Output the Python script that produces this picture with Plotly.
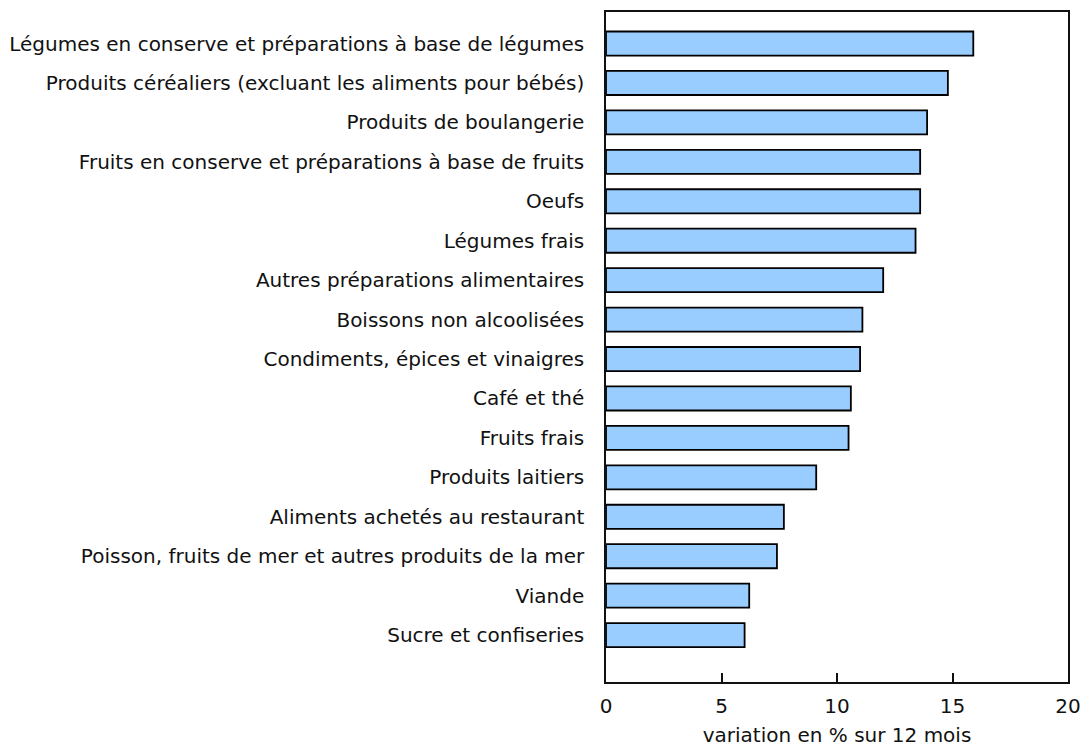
import plotly.graph_objects as go

categories = [
    "Légumes en conserve et préparations à base de légumes",
    "Produits céréaliers (excluant les aliments pour bébés)",
    "Produits de boulangerie",
    "Fruits en conserve et préparations à base de fruits",
    "Oeufs",
    "Légumes frais",
    "Autres préparations alimentaires",
    "Boissons non alcoolisées",
    "Condiments, épices et vinaigres",
    "Café et thé",
    "Fruits frais",
    "Produits laitiers",
    "Aliments achetés au restaurant",
    "Poisson, fruits de mer et autres produits de la mer",
    "Viande",
    "Sucre et confiseries",
]
values = [15.9, 14.8, 13.9, 13.6, 13.6, 13.4, 12.0, 11.1, 11.0, 10.6, 10.5, 9.1, 7.7, 7.4, 6.2, 6.0]
x_ticks = [0, 5, 10, 15, 20]
x_title = "variation en % sur 12 mois"

cats_bottom_up = categories[::-1]
vals_bottom_up = values[::-1]

fig = go.Figure(
    go.Bar(
        x=vals_bottom_up,
        y=cats_bottom_up,
        orientation="h",
        width=0.61,
        marker=dict(color="#99CCFF", line=dict(color="#000000", width=1.8)),
        hoverinfo="x+y",
    )
)

font_family = "Verdana, 'DejaVu Sans', sans-serif"
fig.update_layout(
    autosize=False,
    width=1082,
    height=754,
    margin=dict(l=606, r=14, t=12, b=72),
    paper_bgcolor="white",
    plot_bgcolor="white",
    showlegend=False,
    font=dict(family=font_family, size=20, color="#111111"),
    xaxis=dict(
        automargin=False,
        range=[0, 20],
        tickvals=x_ticks,
        ticks="inside",
        ticklen=9,
        tickwidth=1.5,
        tickcolor="#111111",
        showline=True,
        linecolor="#111111",
        linewidth=1.5,
        mirror=True,
        showgrid=False,
        zeroline=False,
        ticklabeloverflow="allow",
        ticklabelstandoff=5,
        title=dict(text=x_title, standoff=11, font=dict(size=20)),
        tickfont=dict(size=20),
        fixedrange=True,
    ),
    yaxis=dict(
        automargin=False,
        type="category",
        categoryorder="array",
        categoryarray=cats_bottom_up,
        range=[-1.19, 15.8],
        ticks="",
        showline=True,
        linecolor="#111111",
        linewidth=1.5,
        mirror=True,
        showgrid=False,
        zeroline=False,
        ticklabelstandoff=16,
        tickfont=dict(size=20),
        fixedrange=True,
    ),
)

fig.write_html(
    "out.html",
    config={"displayModeBar": False, "responsive": False},
    post_script=(
        "document.body.style.margin='0';"
        "document.body.style.overflow='hidden';"
        "Plotly.relayout('{plot_id}', {width: 1082, height: 754});"
    ),
)
